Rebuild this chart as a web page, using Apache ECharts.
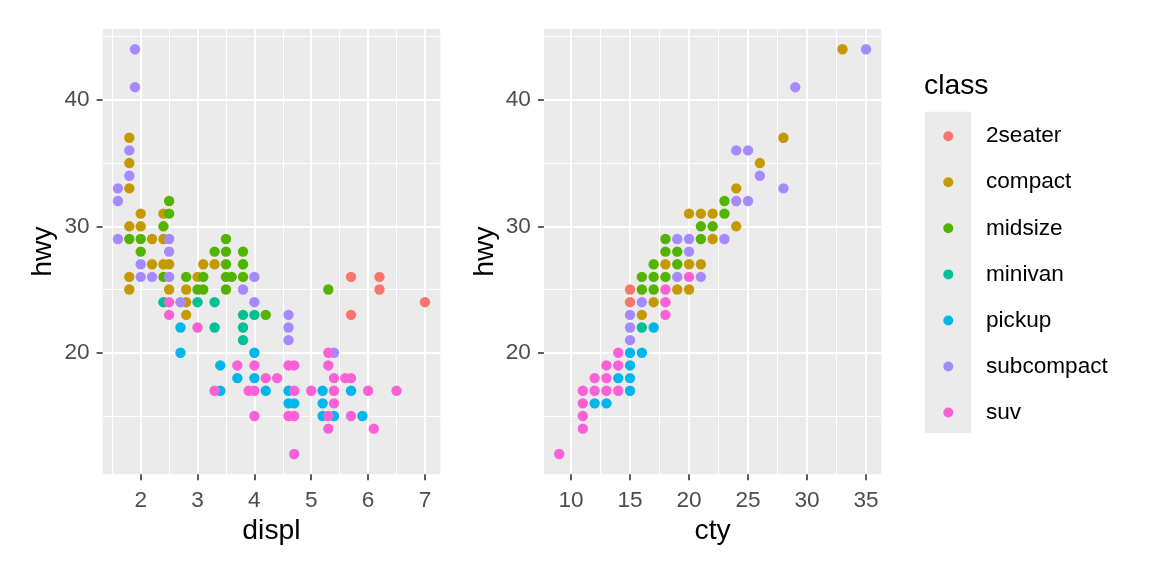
<!DOCTYPE html>
<html>
<head>
<meta charset="utf-8">
<script src="https://cdn.jsdelivr.net/npm/echarts@6/dist/echarts.min.js"></script>
<style>html,body{margin:0;padding:0;background:#fff}#c{width:1152px;height:576px}</style>
</head>
<body>
<div id="c"></div>
<script>
// classes and palette
const classes = ['2seater','compact','midsize','minivan','pickup','subcompact','suv'];
const colors = ['#F8766D','#C49A00','#53B400','#00C094','#00B6EB','#A58AFF','#FB61D7'];

// left panel: [displ, hwy]
const displHwy_2seater = [[5.7,26],[6.2,26],[6.2,25],[7.0,24],[5.7,23]];
const displHwy_compact = [[1.8,37],[1.8,35],[1.8,33],[2.0,31],[2.4,31],[1.8,30],[2.0,30],[2.2,29],[2.4,29],[2.2,27],[2.4,27],[2.5,27],[3.1,27],[3.3,27],[1.8,26],[3.0,26],[1.8,25],[2.5,25],[2.8,25],[2.8,24],[2.8,23]];
const displHwy_midsize = [[2.5,32],[2.5,31],[2.4,30],[1.8,29],[2.0,29],[3.5,29],[2.0,28],[3.3,28],[3.5,28],[3.8,28],[3.5,27],[3.8,27],[2.4,26],[2.8,26],[3.1,26],[3.5,26],[3.6,26],[3.8,26],[3.0,25],[3.1,25],[3.5,25],[4.2,23],[5.3,25]];
const displHwy_minivan = [[2.4,24],[3.0,24],[3.3,24],[3.8,23],[4.0,23],[3.3,22],[3.8,22],[3.8,21]];
const displHwy_pickup = [[2.7,22],[2.7,20],[4.0,20],[3.4,19],[3.7,18],[4.0,18],[3.4,17],[4.2,17],[4.6,17],[5.2,17],[5.7,17],[4.6,16],[4.7,16],[5.2,16],[5.2,15],[5.4,15],[5.9,15]];
const displHwy_subcompact = [[1.9,44],[1.9,41],[1.8,36],[1.8,34],[1.6,33],[1.6,32],[1.6,29],[2.5,29],[2.5,28],[2.0,27],[2.0,26],[2.2,26],[2.5,26],[4.0,26],[3.8,25],[2.7,24],[4.0,24],[4.6,23],[4.6,22],[4.6,21],[5.4,20]];
const displHwy_suv = [[2.5,24],[2.5,23],[3.0,22],[3.7,19],[4.0,19],[4.2,18],[4.4,18],[3.3,17],[3.9,17],[4.0,17],[4.0,15],[5.3,20],[4.6,19],[4.7,19],[5.3,19],[5.4,18],[5.6,18],[5.7,18],[4.7,17],[5.0,17],[5.4,17],[6.0,17],[6.5,17],[5.4,16],[4.6,15],[4.7,15],[5.3,15],[5.7,15],[5.3,14],[6.1,14],[4.7,12]];

// right panel: [cty, hwy]
const ctyHwy_2seater = [[15,25],[15,24]];
const ctyHwy_compact = [[33,44],[28,37],[26,35],[24,33],[24,30],[21,31],[22,31],[20,31],[22,29],[18,27],[20,27],[21,27],[19,25],[20,25],[17,24],[16,23]];
const ctyHwy_midsize = [[23,32],[23,31],[21,30],[22,30],[18,29],[21,29],[18,28],[19,28],[17,27],[19,27],[16,26],[17,26],[18,26],[16,25],[17,25]];
const ctyHwy_minivan = [[16,22]];
const ctyHwy_pickup = [[17,22],[16,20],[15,20],[15,19],[15,18],[14,18],[15,17],[12,16],[13,16]];
const ctyHwy_subcompact = [[35,44],[29,41],[24,36],[25,36],[26,34],[28,33],[24,32],[25,32],[19,29],[20,29],[23,29],[20,28],[19,26],[21,26],[16,24],[15,23],[15,22],[15,21]];
const ctyHwy_suv = [[9,12],[11,14],[11,15],[11,16],[11,17],[12,17],[13,17],[14,17],[12,18],[13,18],[13,19],[14,19],[14,20],[18,23],[18,24],[18,25],[20,26]];

// axis ticks
const displTicks = [2,3,4,5,6,7];
const displMinor = [1.5,2.5,3.5,4.5,5.5,6.5];
const ctyTicks = [10,15,20,25,30,35];
const ctyMinor = [12.5,17.5,22.5,27.5,32.5];
const hwyTicks = [20,30,40];
const hwyMinor = [15,25,35,45];
const displRange = [1.33, 7.27];
const ctyRange = [7.7, 36.3];
const hwyRange = [10.4, 45.6];

const leftData = [displHwy_2seater,displHwy_compact,displHwy_midsize,displHwy_minivan,displHwy_pickup,displHwy_subcompact,displHwy_suv];
const rightData = [ctyHwy_2seater,ctyHwy_compact,ctyHwy_midsize,ctyHwy_minivan,ctyHwy_pickup,ctyHwy_subcompact,ctyHwy_suv];

const FONT = 'Liberation Sans, Arial, sans-serif';
const TICK_FS = 22.6;
const TITLE_FS = 28.3;

function majorAxis(grid, range, ticks, name, gap, margin) {
  return {
    type: 'value', gridIndex: grid, min: range[0], max: range[1],
    name: name, nameLocation: 'middle', nameGap: gap,
    nameTextStyle: {fontFamily: FONT, fontSize: TITLE_FS, color: '#000'},
    axisLine: {show: false},
    axisTick: {show: true, length: 6, customValues: ticks, lineStyle: {color: '#333333', width: 1.6}},
    axisLabel: {show: true, customValues: ticks, fontFamily: FONT, fontSize: TICK_FS, color: '#4D4D4D', margin: margin},
    splitLine: {show: true, lineStyle: {color: '#FFFFFF', width: 2}},
    z: 2
  };
}
function minorAxis(grid, range, ticks) {
  return {
    type: 'value', gridIndex: grid, min: range[0], max: range[1],
    axisLine: {show: false},
    axisTick: {show: false, customValues: ticks},
    axisLabel: {show: false, customValues: ticks},
    splitLine: {show: true, lineStyle: {color: '#FFFFFF', width: 1}},
    z: 1
  };
}

const series = [];
classes.forEach((c, i) => {
  series.push({name: c, type: 'scatter', xAxisIndex: 0, yAxisIndex: 0, data: leftData[i], symbolSize: 10.4, itemStyle: {color: colors[i], opacity: 1}, z: 3, animation: false});
  series.push({name: c, type: 'scatter', xAxisIndex: 2, yAxisIndex: 2, data: rightData[i], symbolSize: 10.4, itemStyle: {color: colors[i], opacity: 1}, z: 3, animation: false});
});

const chart = echarts.init(document.getElementById('c'), null, {renderer: 'canvas'});
chart.setOption({
  animation: false,
  backgroundColor: '#FFFFFF',
  grid: [
    {left: 102.6, top: 29, width: 337.7, height: 445.2, show: true, backgroundColor: '#EBEBEB', borderWidth: 0},
    {left: 543.9, top: 29, width: 337.5, height: 445.2, show: true, backgroundColor: '#EBEBEB', borderWidth: 0}
  ],
  xAxis: [
    majorAxis(0, displRange, displTicks, 'displ', 41, 15),
    minorAxis(0, displRange, displMinor),
    majorAxis(1, ctyRange, ctyTicks, 'cty', 41, 15),
    minorAxis(1, ctyRange, ctyMinor)
  ],
  yAxis: [
    majorAxis(0, hwyRange, hwyTicks, 'hwy', 45, 13),
    minorAxis(0, hwyRange, hwyMinor),
    majorAxis(1, hwyRange, hwyTicks, 'hwy', 45, 13),
    minorAxis(1, hwyRange, hwyMinor)
  ],
  title: {text: 'class', left: 924, top: 72, padding: 0, textStyle: {fontFamily: FONT, fontSize: TITLE_FS, fontWeight: 'normal', color: '#000'}},
  graphic: [{type: 'rect', shape: {x: 925, y: 111.7, width: 46, height: 321.3}, style: {fill: '#EBEBEB'}, z: -1}],
  legend: {
    data: classes, orient: 'vertical', left: 943.3, top: 124.7, padding: 0,
    icon: 'circle', itemWidth: 10, itemHeight: 10, itemGap: 23.06,
    textStyle: {fontFamily: FONT, fontSize: TICK_FS, color: '#000', lineHeight: 23, padding: [0, 0, 0, 27.7]},
    selectedMode: false
  },
  series: series
});
</script>
</body>
</html>
